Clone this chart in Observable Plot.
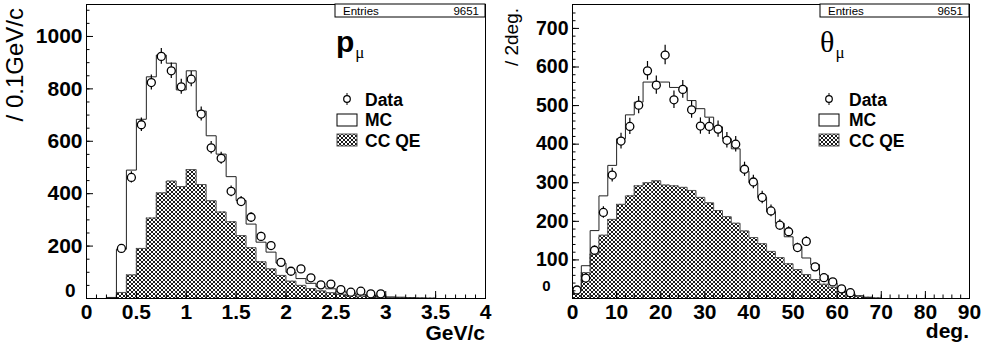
<!DOCTYPE html>
<html>
<head>
<meta charset="utf-8">
<script src="https://cdn.jsdelivr.net/npm/d3@7"></script>
<script src="https://cdn.jsdelivr.net/npm/@observablehq/plot@0.6"></script>
<style>
  html, body { margin: 0; padding: 0; background: #fff; }
  #wrap { position: relative; width: 984px; height: 347px; overflow: hidden; }
  #wrap svg { position: absolute; top: 0; }
</style>
</head>
<body>
<svg width="0" height="0" style="position:absolute">
  <defs>
    <pattern id="xh" patternUnits="userSpaceOnUse" width="4" height="4">
      <rect width="4" height="4" fill="#fff"></rect>
      <path d="M0,0L4,4M4,0L0,4" stroke="#000" stroke-width="0.9"></path>
    </pattern>
  </defs>
</svg>
<div id="wrap"></div>
<script>
// ---------- Left panel: muon momentum (bins of 0.1 GeV/c, 0..4) ----------
const pBinWidth = 0.1;
const pMC = [0,0,4,188,490,684,846,929,898,796,869,715,621,551,465,374,284,215,177,135,
             100,76,58,45,37,28,21,16,12,9,6,5,3,2,1,0,0,0,0,0];
const pCCQE = [0,0,2,23,90,191,307,403,448,427,492,435,373,330,293,240,194,140,113,88,
               66,50,38,29,22,16,12,9,7,5,4,3,2,1,1,0,0,0,0,0];
const pDataX = [0.35,0.45,0.55,0.65,0.75,0.85,0.95,1.05,1.15,1.25,1.35,1.45,1.55,1.65,1.75,
                1.85,1.95,2.05,2.15,2.25,2.35,2.45,2.55,2.65,2.75,2.85,2.95];
const pDataY = [191,462,663,824,924,869,808,837,704,575,535,409,370,310,237,
                202,138,104,113,79,52,55,34,24,28,18,18];
const pXMajor = [0,0.5,1,1.5,2,2.5,3,3.5,4];
const pXLabels = ["0","0.5","1","1.5","2","2.5","3","3.5","4"];
const pYMajor = [0,200,400,600,800,1000];
const pYLabels = ["0","200","400","600","800","1000"];

// ---------- Right panel: muon angle (bins of 2 deg, 0..90) ----------
const tBinWidth = 2;
const tMC = [28,85,176,266,345,414,476,509,561,561,561,547,547,513,492,470,445,414,388,330,
             300,262,225,195,160,135,105,88,60,40,24,13,7,3,1,0,0,0,0,0,0,0,0,0,0];
const tCCQE = [20,67,115,164,205,244,266,292,300,305,294,292,288,280,262,248,228,212,195,175,
               158,142,122,106,90,75,62,49,37,29,18,11,6,3,1,0,0,0,0,0,0,0,0,0,0];
const tDataX = [1,3,5,7,9,11,13,15,17,19,21,23,25,27,29,31,33,35,37,39,41,43,45,47,49,51,53,55,57,59,61,63];
const tDataY = [22,53,125,223,320,408,446,501,590,553,631,515,542,489,447,446,439,410,400,335,302,262,227,190,173,132,148,82,54,43,25,15];
const tXMajor = [0,10,20,30,40,50,60,70,80,90];
const tXLabels = ["0","10","20","30","40","50","60","70","80","90"];
const tYMajor = [0,100,200,300,400,500,600,700];
const tYLabels = ["0","100","200","300","400","500","600","700"];

const entries = "9651";
const legendLabels = ["Data", "MC", "CC QE"];

const FONT = "Liberation Sans, Arial, Helvetica, sans-serif";

function stepPoints(vals, w) {
  const pts = [];
  vals.forEach((v, i) => { pts.push({x: i * w, y: v}); pts.push({x: (i + 1) * w, y: v}); });
  return pts;
}
function bins(vals, w) { return vals.map((v, i) => ({x1: i * w, x2: (i + 1) * w, y: v})); }
function range(a, b, s) { const r = []; for (let v = a; v <= b + 1e-9; v += s) r.push(+v.toFixed(6)); return r; }

function panel(cfg) {
  const W = 492, H = 347;
  const mT = 4, mB = 49;
  const innerH = H - mT - mB;
  const innerW = W - cfg.mL - cfg.mR;
  const data = cfg.dataX.map((x, i) => ({x, y: cfg.dataY[i], e: Math.sqrt(cfg.dataY[i])}));
  const yMajorLab = cfg.yMajor.map((v, i) => ({v, t: cfg.yLabels[i]})).filter(d => d.v !== 0);
  const xLab = cfg.xMajor.map((v, i) => ({v, t: cfg.xLabels[i]}));
  const svg = Plot.plot({
    width: W, height: H,
    marginLeft: cfg.mL, marginRight: cfg.mR, marginTop: mT, marginBottom: mB,
    style: {fontFamily: FONT, background: "white", overflow: "visible"},
    x: {domain: cfg.xDomain, axis: null},
    y: {domain: cfg.yDomain, axis: null},
    marks: [
      Plot.rectY(bins(cfg.cc, cfg.w), {x1: "x1", x2: "x2", y: "y", fill: "url(#xh)"}),
      Plot.line(stepPoints(cfg.cc, cfg.w), {x: "x", y: "y", stroke: "#555", strokeWidth: 1}),
      Plot.line(stepPoints(cfg.mc, cfg.w), {x: "x", y: "y", stroke: "#222", strokeWidth: 1}),
      Plot.ruleX(data, {x: "x", y1: d => d.y - d.e, y2: d => d.y + d.e, stroke: "#000", strokeWidth: 1.2}),
      Plot.dot(data, {x: "x", y: "y", r: 4, fill: "white", stroke: "#000", strokeWidth: 1.3}),
      Plot.ruleX(cfg.xMinor, {insetTop: innerH - 3.5, stroke: "#000"}),
      Plot.ruleX(cfg.xMajor, {insetTop: innerH - 7, stroke: "#000"}),
      Plot.ruleY(cfg.yMinor, {insetRight: innerW - 3.5, stroke: "#000"}),
      Plot.ruleY(cfg.yMajor, {insetRight: innerW - 7, stroke: "#000"}),
      Plot.text(xLab, {x: "v", text: "t", frameAnchor: "bottom", dy: 6, lineAnchor: "top",
        fontSize: 21, fontWeight: "bold", fill: "#000"}),
      Plot.text(yMajorLab, {y: "v", text: "t", frameAnchor: "left", dx: -4, textAnchor: "end",
        lineAnchor: "middle", fontSize: cfg.yFont, fontWeight: "bold", fill: "#000"}),
      Plot.text([0], {y: d => d, text: () => "0", frameAnchor: "left", dx: cfg.zeroDx, dy: cfg.zeroDy,
        textAnchor: "end", lineAnchor: "middle", fontSize: cfg.zeroFont, fontWeight: "bold", fill: "#000"}),
      Plot.frame({stroke: "#000", strokeWidth: 1})
    ]
  });
  svg.style.left = cfg.left + "px";
  const s = d3.select(svg);
  const x1 = W - cfg.mR;
  // axis titles
  s.append("text").attr("x", x1).attr("y", cfg.xTitleY).attr("text-anchor", "end")
    .attr("font-family", FONT).attr("font-weight", "bold").attr("font-size", 21).text(cfg.xTitle);
  s.append("text").attr("transform", `translate(${cfg.yTitleX},${cfg.yTitleTop}) rotate(-90)`)
    .attr("text-anchor", "end").attr("font-family", FONT).attr("font-size", cfg.yTitleFont)
    .text(cfg.yTitle);
  // Entries box
  const bx = cfg.boxX;
  s.append("rect").attr("x", bx).attr("y", mT).attr("width", x1 - bx).attr("height", 13)
    .attr("fill", "white").attr("stroke", "#000").attr("stroke-width", 1);
  s.append("text").attr("x", bx + 8).attr("y", mT + 10.5).attr("text-anchor", "start")
    .attr("font-family", FONT).attr("font-size", 11.5).text("Entries");
  s.append("text").attr("x", x1 - 6).attr("y", mT + 10.5).attr("text-anchor", "end")
    .attr("font-family", FONT).attr("font-size", 11.5).text(entries);
  // variable label
  const lab = s.append("text").attr("x", cfg.symX).attr("y", 52).attr("fill", "#000")
    .attr("text-anchor", "start");
  lab.append("tspan").attr("font-family", cfg.symFamily).attr("font-weight", cfg.symWeight)
    .attr("font-size", cfg.symSize).text(cfg.sym);
  lab.append("tspan").attr("font-family", "Liberation Serif, serif").attr("font-size", 17)
    .attr("dy", 6).attr("dx", 1).text("μ");
  // legend
  const lx = cfg.legX; // marker centre x
  s.append("line").attr("x1", lx).attr("x2", lx).attr("y1", 93).attr("y2", 105).attr("stroke", "#000");
  s.append("circle").attr("cx", lx).attr("cy", 99).attr("r", 3.3).attr("fill", "white").attr("stroke", "#000").attr("stroke-width", 1.2);
  s.append("rect").attr("x", lx - 10).attr("y", 114).attr("width", 20).attr("height", 12)
    .attr("fill", "white").attr("stroke", "#000");
  s.append("rect").attr("x", lx - 10).attr("y", 134).attr("width", 20).attr("height", 12)
    .attr("fill", "url(#xh)").attr("stroke", "#555");
  legendLabels.forEach((t, i) => {
    s.append("text").attr("x", cfg.legTextX).attr("y", 105.5 + 20.5 * i).attr("text-anchor", "start")
      .attr("font-family", FONT).attr("font-weight", "bold").attr("font-size", 17.5).text(t);
  });
  return svg;
}

const wrap = document.getElementById("wrap");
wrap.appendChild(panel({
  left: 0, mL: 86, mR: 7, xDomain: [0, 4], yDomain: [0, 1122], w: pBinWidth,
  mc: pMC, cc: pCCQE, dataX: pDataX, dataY: pDataY,
  xMajor: pXMajor, xLabels: pXLabels, xMinor: range(0, 4, 0.1),
  yMajor: pYMajor, yLabels: pYLabels, yMinor: range(0, 1100, 50),
  yFont: 21, zeroDx: -11, zeroDy: -8, zeroFont: 19,
  xTitle: "GeV/c", xTitleY: 340, yTitle: "/ 0.1GeV/c", yTitleX: 23, yTitleTop: 8, yTitleFont: 24,
  boxX: 335, sym: "p", symX: 336, symFamily: FONT, symWeight: "bold", symSize: 30,
  legX: 347, legTextX: 365
}));
wrap.appendChild(panel({
  left: 492, mL: 80, mR: 15, xDomain: [0, 90], yDomain: [0, 762], w: tBinWidth,
  mc: tMC, cc: tCCQE, dataX: tDataX, dataY: tDataY,
  xMajor: tXMajor, xLabels: tXLabels, xMinor: range(0, 90, 2),
  yMajor: tYMajor, yLabels: tYLabels, yMinor: range(0, 740, 20),
  yFont: 19.5, zeroDx: -22, zeroDy: -12, zeroFont: 15,
  xTitle: "deg.", xTitleY: 338, yTitle: "/ 2deg.", yTitleX: 26, yTitleTop: 8, yTitleFont: 19,
  boxX: 328, sym: "θ", symX: 328, symFamily: "Liberation Serif, serif", symWeight: "normal", symSize: 30,
  legX: 337, legTextX: 357
}));
</script>
</body>
</html>
